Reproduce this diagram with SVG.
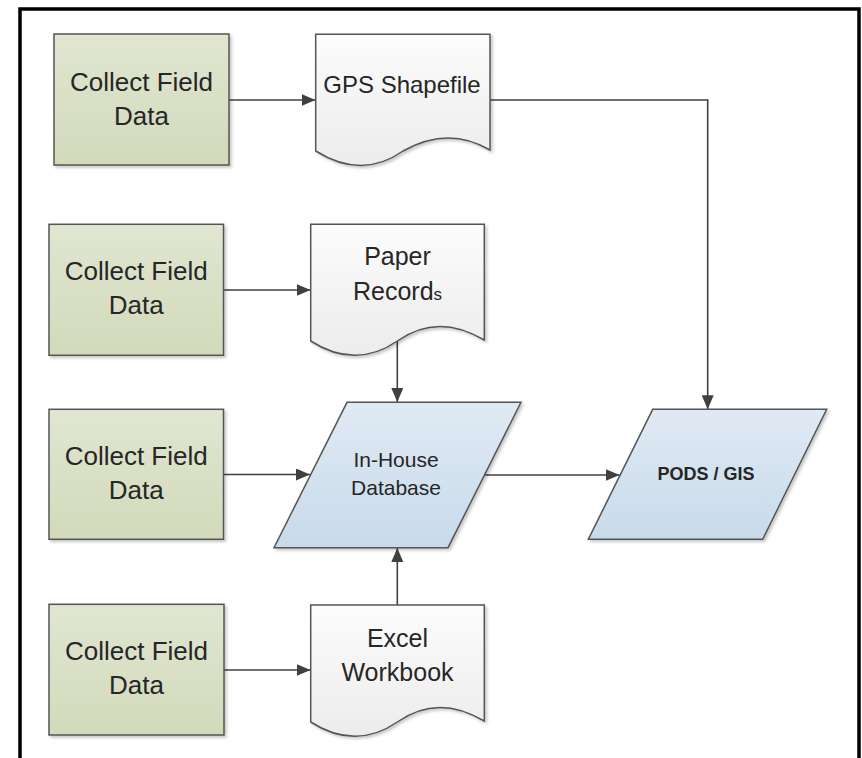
<svg xmlns="http://www.w3.org/2000/svg" width="862" height="758" viewBox="0 0 862 758">
  <style>
    .task { stroke: #555; stroke-width: 1.5; fill: url(#gTask); filter: url(#shadow); }
    .doc { stroke: #555; stroke-width: 1.5; fill: url(#gDoc); filter: url(#shadow); }
    .data { stroke: #555; stroke-width: 1.5; fill: url(#gData); filter: url(#shadow); }
    .lbl { font-family: "Liberation Sans", Arial, sans-serif; font-size: 25px; fill: #262626; text-anchor: middle; }
    .lbl-wide { font-size: 26px; }
    .lbl-sm { font-family: "Liberation Sans", Arial, sans-serif; font-size: 21px; fill: #262626; text-anchor: middle; }
    .lbl-b { font-family: "Liberation Sans", Arial, sans-serif; font-size: 18px; font-weight: bold; fill: #262626; text-anchor: middle; }
    .conn { stroke: #404040; stroke-width: 1.6; fill: none; marker-end: url(#arrow); }
  </style>
  <defs>
    <linearGradient id="gTask" x1="0" y1="0" x2="0" y2="1">
      <stop offset="0" stop-color="#e0e6d1"/>
      <stop offset="1" stop-color="#d2dabb"/>
    </linearGradient>
    <linearGradient id="gDoc" x1="0" y1="0" x2="0" y2="1">
      <stop offset="0" stop-color="#fcfcfc"/>
      <stop offset="1" stop-color="#ececec"/>
    </linearGradient>
    <linearGradient id="gData" x1="0" y1="0" x2="0" y2="1">
      <stop offset="0" stop-color="#e0eaf4"/>
      <stop offset="1" stop-color="#c8daea"/>
    </linearGradient>
    <filter id="shadow" x="-10%" y="-10%" width="125%" height="125%">
      <feDropShadow dx="2" dy="2" stdDeviation="1.5" flood-color="#000" flood-opacity="0.22"/>
    </filter>
    <marker id="arrow" markerUnits="userSpaceOnUse" markerWidth="14" markerHeight="12" refX="14" refY="6" orient="auto">
      <path d="M0,0 L14,6 L0,12 Z" fill="#404040"/>
    </marker>
  </defs>

  <!-- frame -->
  <path d="M20,762 L20,9 L859,9 L859,762" fill="none" stroke="#000" stroke-width="3.5"/>

  <!-- connectors -->
  <g id="connectors">
    <line class="conn" x1="229" y1="100" x2="315.5" y2="100"/>
    <line class="conn" x1="223.5" y1="290" x2="310.5" y2="290"/>
    <line class="conn" x1="223.5" y1="474.5" x2="310" y2="474.5"/>
    <line class="conn" x1="224" y1="670" x2="310.5" y2="670"/>
    <line class="conn" x1="397.3" y1="341" x2="397.3" y2="402"/>
    <line class="conn" x1="397.3" y1="605" x2="397.3" y2="548"/>
    <line class="conn" x1="484.5" y1="475" x2="619.5" y2="475"/>
    <polyline class="conn" points="490,100 707.7,100 707.7,409.3"/>
  </g>

  <!-- collect field data tasks -->
  <g id="collect1">
    <rect class="task" x="54" y="34" width="175" height="131"/>
    <text class="lbl lbl-wide" x="141.5" y="91">Collect Field</text>
    <text class="lbl lbl-wide" x="141.5" y="125">Data</text>
  </g>
  <g id="collect2">
    <rect class="task" x="49" y="224.3" width="174.5" height="131"/>
    <text class="lbl lbl-wide" x="136.2" y="280">Collect Field</text>
    <text class="lbl lbl-wide" x="136.2" y="314">Data</text>
  </g>
  <g id="collect3">
    <rect class="task" x="49" y="409.3" width="174.5" height="130"/>
    <text class="lbl lbl-wide" x="136.2" y="464.5">Collect Field</text>
    <text class="lbl lbl-wide" x="136.2" y="498.5">Data</text>
  </g>
  <g id="collect4">
    <rect class="task" x="49" y="604.3" width="175" height="130.7"/>
    <text class="lbl lbl-wide" x="136.5" y="660">Collect Field</text>
    <text class="lbl lbl-wide" x="136.5" y="694.3">Data</text>
  </g>

  <!-- documents -->
  <g id="gps-shapefile">
    <path class="doc" d="M315.7,34.3 L490,34.3 L490,150 C463,134 433,134 403,151 C376,170 346,170 315.7,151 Z"/>
    <text class="lbl" x="402" y="92.7" style="font-size:24px">GPS Shapefile</text>
  </g>
  <g id="paper-records">
    <path class="doc" d="M310.7,224.3 L484.3,224.3 L484.3,340 C454,322 424,322 397.3,341 C370,360 340,360 310.7,341 Z"/>
    <text class="lbl" x="397.5" y="265">Paper</text>
    <text class="lbl" x="397.5" y="300">Record<tspan style="font-size:17px">s</tspan></text>
  </g>
  <g id="excel-workbook">
    <path class="doc" d="M310.7,605 L484.3,605 L484.3,721 C454,703 424,703 397.3,722 C370,741 340,741 310.7,722 Z"/>
    <text class="lbl" x="397.5" y="646.7">Excel</text>
    <text class="lbl" x="397.5" y="680.7">Workbook</text>
  </g>

  <!-- data stores -->
  <g id="in-house-database">
    <path class="data" d="M347,402.3 L521,402.3 L448,547.7 L274,547.7 Z"/>
    <text class="lbl-sm" x="396" y="466.7">In-House</text>
    <text class="lbl-sm" x="396" y="495">Database</text>
  </g>
  <g id="pods-gis">
    <path class="data" d="M652.7,409.3 L826.7,409.3 L762.7,539.3 L588.3,539.3 Z"/>
    <text class="lbl-b" x="706" y="480">PODS / GIS</text>
  </g>
</svg>
